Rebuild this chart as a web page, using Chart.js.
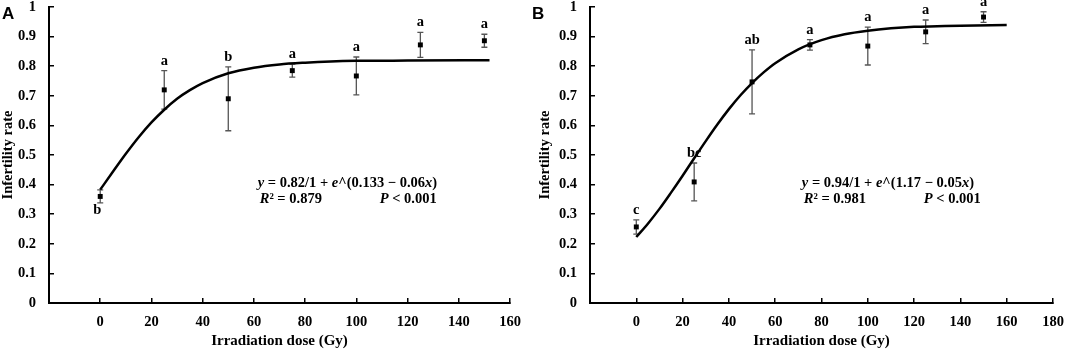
<!DOCTYPE html>
<html>
<head>
<meta charset="utf-8">
<script src="https://cdn.jsdelivr.net/npm/chart.js@4"></script>
<style>
body { margin:0; background:#fff; width:1065px; height:350px; position:relative; overflow:hidden; }
.box { position:absolute; top:0; height:350px; }
#boxA { left:0; width:530px; }
#boxB { left:530px; width:535px; }
</style>
</head>
<body>
<div class="box" id="boxA"><canvas id="chartA"></canvas></div>
<div class="box" id="boxB"><canvas id="chartB"></canvas></div>
<script>
// measured doses (Gy)
const doses = [0, 25, 50, 75, 100, 125, 150];

// panel A
const meanA = [0.36, 0.72, 0.69, 0.785, 0.767, 0.872, 0.886];
const errA = [0.022, 0.065, 0.108, 0.022, 0.064, 0.042, 0.022];
const lettersA = ['b', 'a', 'b', 'a', 'a', 'a', 'a'];
const fitXA = [0, 5, 10, 15, 20, 25, 30, 35, 40, 50, 60, 70, 80, 90, 100, 120, 152];
const fitYA = [0.383, 0.444, 0.504, 0.560, 0.610, 0.653, 0.690, 0.719, 0.743, 0.776, 0.795, 0.806, 0.812, 0.816, 0.818, 0.819, 0.820];

// panel B
const meanB = [0.257, 0.409, 0.747, 0.872, 0.868, 0.916, 0.966];
const errB = [0.024, 0.064, 0.108, 0.018, 0.064, 0.04, 0.018];
const lettersB = ['c', 'bc', 'ab', 'a', 'a', 'a', 'a'];
const fitXB = [0, 5, 10, 15, 20, 25, 30, 35, 40, 45, 50, 55, 60, 70, 80, 90, 100, 110, 120, 130, 140, 160];
const fitYB = [0.223, 0.268, 0.318, 0.373, 0.430, 0.489, 0.547, 0.603, 0.655, 0.702, 0.743, 0.779, 0.810, 0.857, 0.888, 0.908, 0.920, 0.928, 0.933, 0.935, 0.937, 0.939];

const yTicks = [0, 0.1, 0.2, 0.3, 0.4, 0.5, 0.6, 0.7, 0.8, 0.9, 1];

Chart.defaults.font.family = '"Liberation Serif", "Times New Roman", serif';
Chart.defaults.font.size = 14.5;
Chart.defaults.font.weight = 'bold';
Chart.defaults.color = '#000';

const serif = '"Liberation Serif", "Times New Roman", serif';

function drawRich(ctx, parts, x, y) {
    parts.forEach(function (p) {
        ctx.font = (p[1] ? 'italic ' : '') + 'bold 14.5px ' + serif;
        ctx.fillText(p[0], x, y);
        x += ctx.measureText(p[0]).width;
    });
}

const errorBars = {
    id: 'errorBars',
    beforeDatasetsDraw(chart, args, o) {
        const ctx = chart.ctx, xs = chart.scales.x, ys = chart.scales.y;
        ctx.save();
        ctx.strokeStyle = '#555';
        ctx.lineWidth = 1.3;
        o.mean.forEach(function (m, i) {
            const px = xs.getPixelForValue(doses[i]);
            const t = ys.getPixelForValue(m + o.err[i]);
            const b = ys.getPixelForValue(m - o.err[i]);
            ctx.beginPath();
            ctx.moveTo(px, t); ctx.lineTo(px, b);
            ctx.moveTo(px - 3, t); ctx.lineTo(px + 3, t);
            ctx.moveTo(px - 3, b); ctx.lineTo(px + 3, b);
            ctx.stroke();
        });
        ctx.restore();
    },
    afterDatasetsDraw(chart, args, o) {
        const ctx = chart.ctx, xs = chart.scales.x, ys = chart.scales.y;
        ctx.save();
        ctx.fillStyle = '#000';
        ctx.textAlign = 'center';
        ctx.textBaseline = 'alphabetic';
        ctx.font = 'bold 14.5px ' + serif;
        o.letters.forEach(function (l, i) {
            const px = xs.getPixelForValue(doses[i]);
            if (o.below[i]) {
                ctx.fillText(l, px - 3, ys.getPixelForValue(o.mean[i] - o.err[i]) + 11);
            } else {
                ctx.fillText(l, px, ys.getPixelForValue(o.mean[i] + o.err[i]) - 6);
            }
        });
        // equation
        ctx.textAlign = 'left';
        const ex = xs.getPixelForValue(o.eqX);
        const ey = ys.getPixelForValue(o.eqY);
        drawRich(ctx, o.eq1, ex, ey);
        drawRich(ctx, o.eq2, ex + 2, ey + 16);
        drawRich(ctx, o.eq3, ex + o.pOff, ey + 16);
        // panel tag
        ctx.font = 'bold 17px "Liberation Sans", Arial, sans-serif';
        ctx.fillText(o.tag, o.tagX, 19);
        ctx.restore();
    }
};

function makeChart(id, mean, err, fitX, fitY, xMax, padLeft, yWidth, padRight, extra) {
    return new Chart(document.getElementById(id), {
        type: 'scatter',
        data: {
            datasets: [
                {
                    data: fitX.map(function (x, i) { return { x: x, y: fitY[i] }; }),
                    showLine: true,
                    borderColor: '#000',
                    borderWidth: 2.5,
                    pointRadius: 0,
                    tension: 0.4,
                    cubicInterpolationMode: 'monotone'
                },
                {
                    data: doses.map(function (d, i) { return { x: d, y: mean[i] }; }),
                    pointStyle: 'rect',
                    pointRadius: 3.5,
                    backgroundColor: '#000',
                    borderColor: '#000',
                    borderWidth: 0
                }
            ]
        },
        options: {
            responsive: true,
            maintainAspectRatio: false,
            animation: false,
            layout: { padding: { top: 7, left: padLeft, right: padRight, bottom: 0 } },
            plugins: {
                legend: { display: false },
                tooltip: { enabled: false },
                errorBars: extra
            },
            scales: {
                x: {
                    type: 'linear',
                    min: -20,
                    max: xMax,
                    afterFit: function (s) { s.height = 47; s.paddingLeft = 0; s.paddingRight = 0; },
                    ticks: {
                        stepSize: 20,
                        padding: 16,
                        callback: function (v) { return v < 0 ? '' : v; }
                    },
                    grid: { drawOnChartArea: false, color: '#000', lineWidth: 1.5, tickLength: -5 },
                    border: { color: '#000', width: 2 },
                    title: { display: true, text: 'Irradiation dose (Gy)', font: { size: 15 }, padding: { top: 0, bottom: 0 } }
                },
                y: {
                    min: 0,
                    max: 1,
                    afterFit: function (s) { s.width = yWidth; s.paddingTop = 0; s.paddingBottom = 0; },
                    afterBuildTicks: function (s) { s.ticks = yTicks.map(function (v) { return { value: v }; }); },
                    ticks: {
                        padding: 18,
                        callback: function (v) { return +v.toFixed(1); }
                    },
                    grid: { drawOnChartArea: false, color: '#000', lineWidth: 1.5, tickLength: -5 },
                    border: { color: '#000', width: 2 },
                    title: { display: true, text: 'Infertility rate', padding: { top: 0, bottom: 0 } }
                }
            }
        },
        plugins: [errorBars]
    });
}

makeChart('chartA', meanA, errA, fitXA, fitYA, 160, 0, 49, 20, {
    mean: meanA, err: errA, letters: lettersA,
    below: [true, false, false, false, false, false, false],
    eqX: 61.5, eqY: 0.392, pOff: 122,
    eq1: [['y', true], [' = 0.82/1 + ', false], ['e', true], ['^(0.133 \u2212 0.06', false], ['x', true], [')', false]],
    eq2: [['R', true], ['\u00b2 = 0.879', false]],
    eq3: [['P', true], [' < 0.001', false]],
    tag: 'A', tagX: 2
});

makeChart('chartB', meanB, errB, fitXB, fitYB, 180, 7, 53, 12, {
    mean: meanB, err: errB, letters: lettersB,
    below: [false, false, false, false, false, false, false],
    eqX: 71.5, eqY: 0.392, pOff: 122,
    eq1: [['y', true], [' = 0.94/1 + ', false], ['e', true], ['^(1.17 \u2212 0.05', false], ['x', true], [')', false]],
    eq2: [['R', true], ['\u00b2 = 0.981', false]],
    eq3: [['P', true], [' < 0.001', false]],
    tag: 'B', tagX: 2
});
</script>
</body>
</html>
